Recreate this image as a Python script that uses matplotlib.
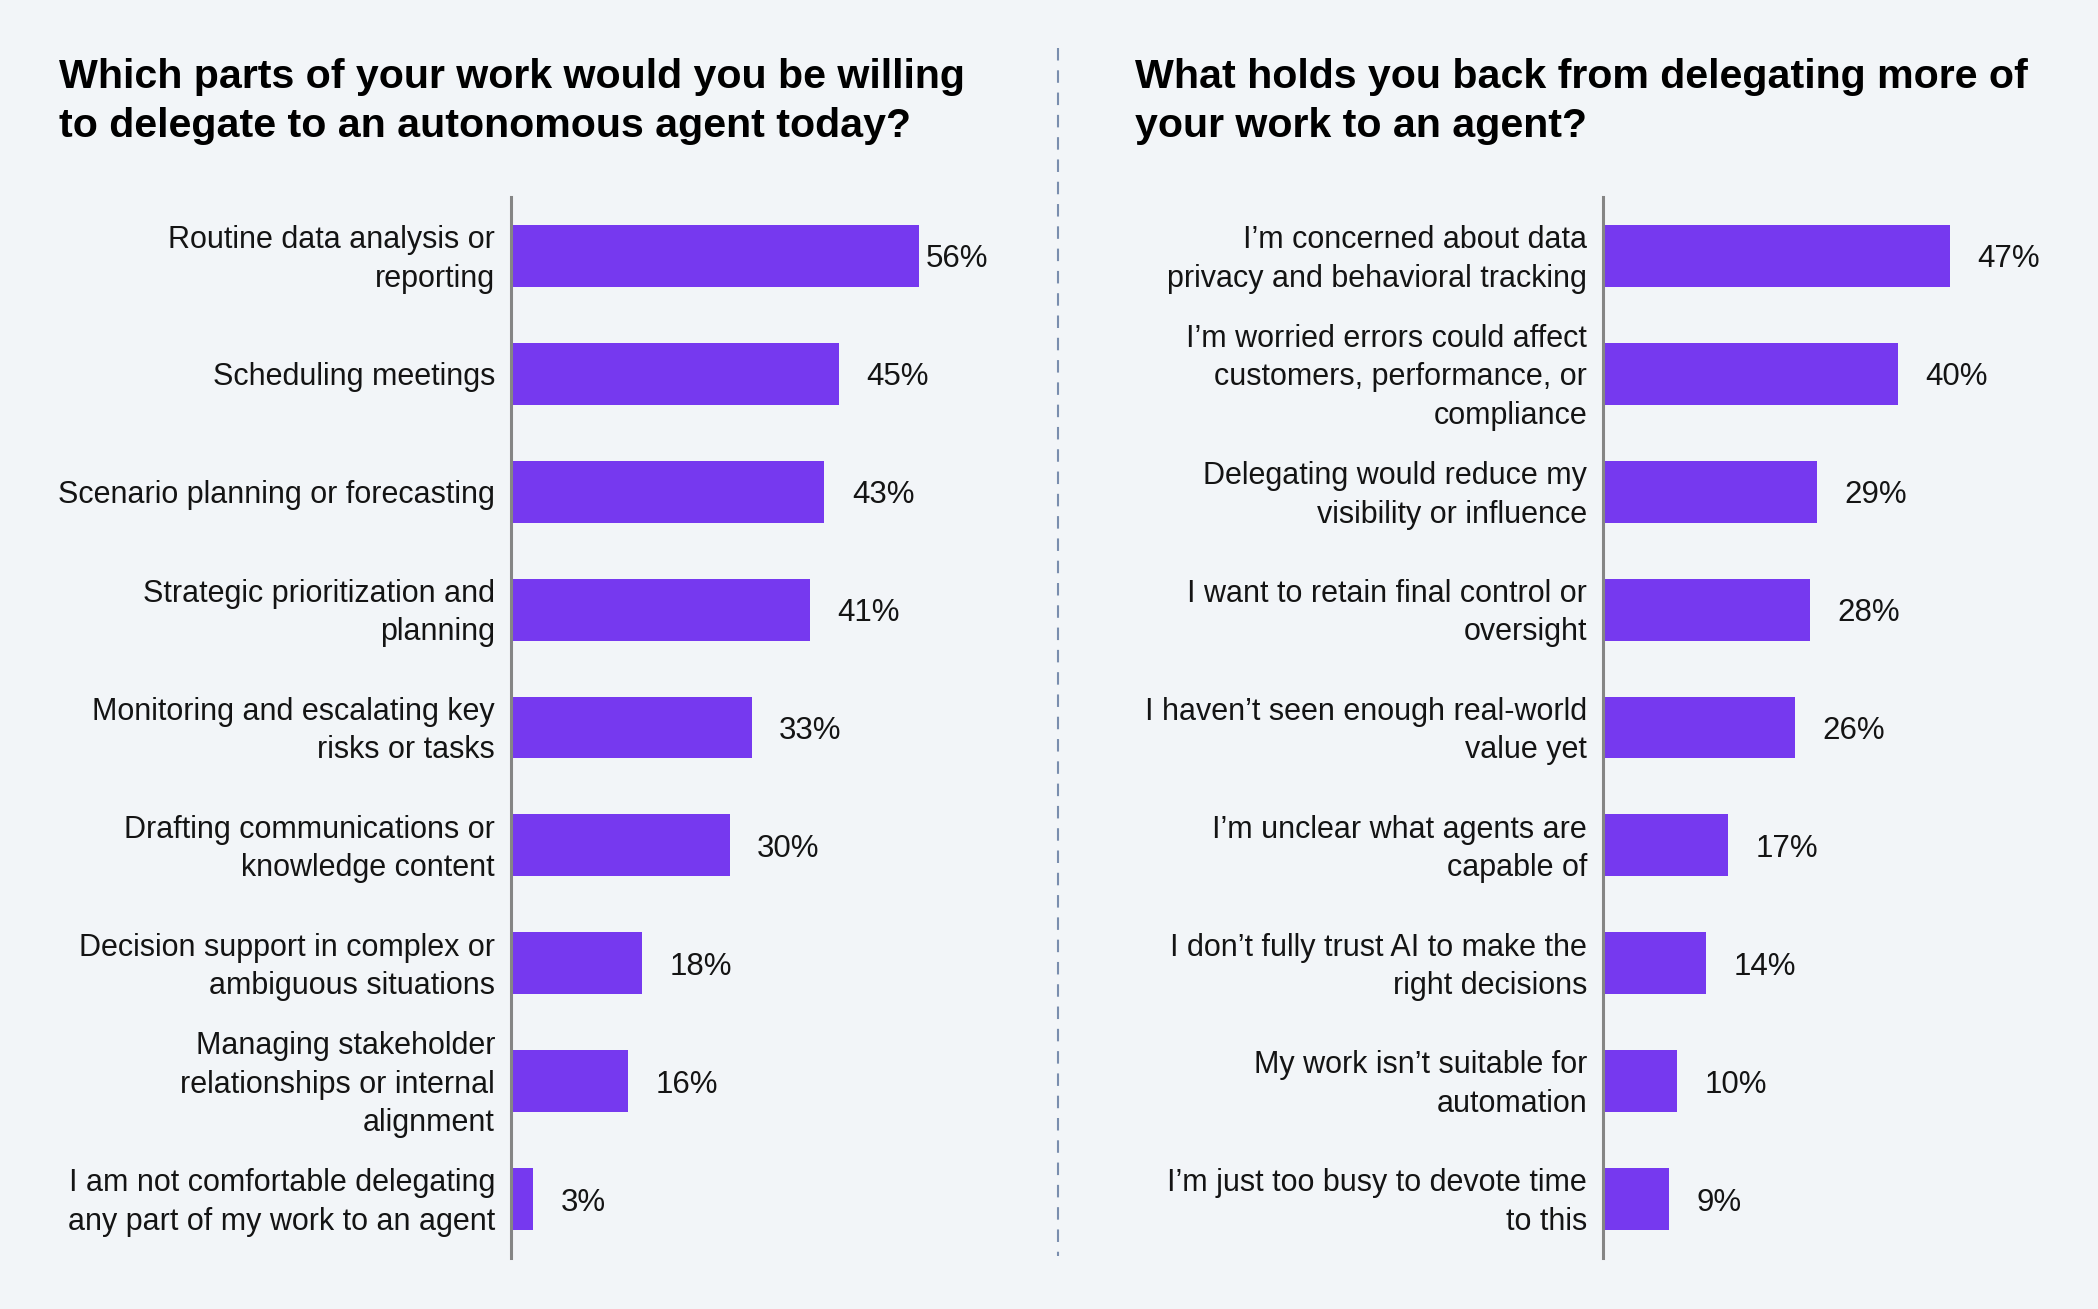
import matplotlib
matplotlib.use("Agg")
import matplotlib.pyplot as plt
from matplotlib.lines import Line2D
from matplotlib.transforms import ScaledTranslation

# ---- data ----
left_title = ["Which parts of your work would you be willing",
              "to delegate to an autonomous agent today?"]
left_labels = [
    "Routine data analysis or\nreporting",
    "Scheduling meetings",
    "Scenario planning or forecasting",
    "Strategic prioritization and\nplanning",
    "Monitoring and escalating key\nrisks or tasks",
    "Drafting communications or\nknowledge content",
    "Decision support in complex or\nambiguous situations",
    "Managing stakeholder\nrelationships or internal\nalignment",
    "I am not comfortable delegating\nany part of my work to an agent",
]
left_values = [56, 45, 43, 41, 33, 30, 18, 16, 3]

right_title = ["What holds you back from delegating more of",
               "your work to an agent?"]
right_labels = [
    "I\u2019m concerned about data\nprivacy and behavioral tracking",
    "I\u2019m worried errors could affect\ncustomers, performance, or\ncompliance",
    "Delegating would reduce my\nvisibility or influence",
    "I want to retain final control or\noversight",
    "I haven\u2019t seen enough real-world\nvalue yet",
    "I\u2019m unclear what agents are\ncapable of",
    "I don\u2019t fully trust AI to make the\nright decisions",
    "My work isn\u2019t suitable for\nautomation",
    "I\u2019m just too busy to devote time\nto this",
]
right_values = [47, 40, 29, 28, 26, 17, 14, 10, 9]

# ---- style ----
BG = "#F2F5F8"
BAR = "#7639EF"
TXT = "#141414"
AXC = "#858585"
DIV = "#7A8EAE"
FONT = "Liberation Sans"

W, H, DPI = 2098, 1309, 100
fig = plt.figure(figsize=(W / DPI, H / DPI), dpi=DPI, facecolor=BG)

def panel(left_px, ppx, labels, values, title, title_x, label_cap=None):
    xmax = 60
    axw = ppx * xmax
    top, bot = 197, 1258
    ax = fig.add_axes([left_px / W, (H - bot) / H, axw / W, (bot - top) / H])
    ax.set_facecolor("none")
    n = len(values)
    ys = list(range(n))
    ax.barh(ys, values, height=0.525, color=BAR, zorder=2)
    ax.set_ylim(n - 0.5, -0.5)
    ax.set_xlim(0, xmax)
    ax.set_yticks(ys)
    ax.set_yticklabels(labels, fontsize=22, color=TXT, family=FONT, linespacing=1.37)
    ax.tick_params(axis="y", length=0, pad=11.5)
    ax.set_xticks([])
    for lab in ax.get_yticklabels():
        if "\n" in lab.get_text():
            lab.set_transform(lab.get_transform() +
                              ScaledTranslation(0, 3 / 72, fig.dpi_scale_trans))
    for s in ["top", "right", "bottom"]:
        ax.spines[s].set_visible(False)
    ax.spines["left"].set_color(AXC)
    ax.spines["left"].set_linewidth(2.2)
    off = 27.5 / ppx
    for y, v in zip(ys, values):
        xl = v + off
        if label_cap is not None:
            xl = min(xl, label_cap)
        ax.text(xl, y, f"{v}%", va="center_baseline", ha="left", fontsize=22.5,
                color=TXT, family=FONT)
    for i, line in enumerate(title):
        fig.text(title_x / W, 1 - (88 + 49 * i) / H, line, fontsize=29.6,
                 fontweight="bold", color="black", family=FONT,
                 va="baseline", ha="left")
    return ax

panel(511, 7.29, left_labels, left_values, left_title, 59, label_cap=(926 - 511) / 7.29)
panel(1603, 7.38, right_labels, right_values, right_title, 1135)

# dashed divider
fig.add_artist(Line2D([1058 / W, 1058 / W], [1 - 48 / H, 1 - 1256 / H],
                      transform=fig.transFigure, color=DIV, linewidth=1.5,
                      linestyle=(0, (6.0, 4.7))))

fig.savefig("out.png", dpi=DPI, facecolor=BG)
